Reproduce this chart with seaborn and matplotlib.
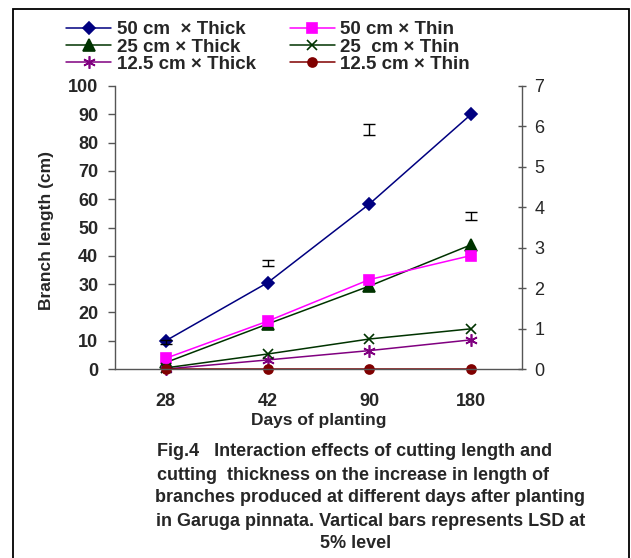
import numpy as np
import matplotlib
matplotlib.use("Agg")
import matplotlib.pyplot as plt
from matplotlib.patches import Rectangle
import seaborn as sns

# Data
days = ["28", "42", "90", "180"]
thick_50 = [10.0, 30.5, 58.3, 90.0]
thin_50 = [3.8, 16.9, 31.6, 40.1]
thick_25 = [2.3, 15.9, 29.3, 43.9]
thin_25 = [0.4, 5.3, 10.6, 14.2]
thick_125 = [0.0, 3.2, 6.5, 10.3]
thin_125 = [0.0, 0.0, 0.0, 0.0]
# LSD (5%) bars on the right axis
lsd_centre = [0.67, 2.62, 5.92, 3.78]
lsd_half = [0.05, 0.07, 0.135, 0.095]

series = [
    ("50 cm  \u00d7 Thick", thick_50, "#000080", "D", 6.5),
    ("25 cm \u00d7 Thick", thick_25, "#003300", "^", 8),
    ("12.5 cm \u00d7 Thick", thick_125, "#800080", (6, 2, 0), 9),
    ("50 cm \u00d7 Thin", thin_50, "#FF00FF", "s", 6.5),
    ("25  cm \u00d7 Thin", thin_25, "#003300", "x", 7.5),
    ("12.5 cm \u00d7 Thin", thin_125, "#800000", "o", 6.5),
]

sns.set_style("white")
plt.rcParams["font.family"] = ["Liberation Sans", "DejaVu Sans"]
AXIS_GREY = "#555555"

fig = plt.figure(figsize=(6.31, 5.58), dpi=100)
ax = fig.add_axes([115 / 631, 1 - 369 / 558, 407 / 631, 283 / 558])
ax2 = ax.twinx()

pos = np.arange(len(days))
for label, vals, color, marker, ms in series:
    sns.lineplot(x=pos, y=vals, ax=ax, color=color, marker=marker,
                 markersize=ms, linewidth=1.1, label=label,
                 markeredgecolor=color, markerfacecolor=color,
                 markeredgewidth=1.2, clip_on=False)

ax2.errorbar(pos, lsd_centre, yerr=lsd_half, fmt="none", ecolor="black",
             elinewidth=1, capsize=4, capthick=1)

# left axis
ax.set_xlim(-0.5, 3.5)
ax.set_ylim(0, 100)
ax.set_yticks(range(0, 101, 10))
ax.tick_params(axis="y", direction="out", length=5, width=1, color=AXIS_GREY,
               pad=7, labelsize=13)
for t in ax.get_yticklabels():
    t.set_fontweight("bold")
ax.set_xticks(pos)
ax.set_xticklabels(days, fontsize=13, fontweight="bold")
ax.set_xticks(np.arange(-0.5, 4, 1), minor=True)
ax.tick_params(axis="x", which="major", length=0, pad=17)
ax.tick_params(axis="x", which="minor", direction="out", length=5, width=1,
               color=AXIS_GREY)
ax.set_ylabel("Branch length (cm)", fontsize=12.5, fontweight="bold")
ax.yaxis.set_label_coords(-0.15, 0.49)
ax.set_xlabel("Days of planting", fontsize=12.5, fontweight="bold")
ax.xaxis.set_label_coords(0.5, -0.155)

# right axis
ax2.set_ylim(0, 7)
ax2.set_yticks(range(0, 8))
ax2.tick_params(axis="y", direction="inout", length=6, width=1,
                color=AXIS_GREY, pad=6, labelsize=13)

for a in (ax, ax2):
    a.spines["top"].set_visible(False)
    for s in ("left", "right", "bottom"):
        a.spines[s].set_color(AXIS_GREY)
        a.spines[s].set_linewidth(1)
ax2.spines["left"].set_visible(False)
ax2.spines["bottom"].set_visible(False)
ax.spines["right"].set_visible(False)

handles, labels = ax.get_legend_handles_labels()
ax.get_legend().remove()
fig.legend(handles, labels, ncol=2, loc="upper left",
           bbox_to_anchor=(57 / 631, 1 - 12 / 558), frameon=False,
           borderpad=0, handlelength=2.4, handletextpad=0.3,
           columnspacing=1.8, labelspacing=0.0,
           prop={"size": 13.5, "weight": "bold"})

# caption
caption = [
    "Fig.4   Interaction effects of cutting length and",
    "cutting  thickness on the increase in length of",
    "branches produced at different days after planting",
    "in Garuga pinnata. Vartical bars represents LSD at",
]
cap_x = [157, 157, 155, 156]
cap_y = [452, 475, 498, 521]
for txt, x, y in zip(caption, cap_x, cap_y):
    fig.text(x / 631, 1 - y / 558, txt, ha="left", va="center",
             fontsize=13, fontweight="bold")
fig.text(356 / 631, 1 - 544 / 558, "5% level", ha="center", va="center",
         fontsize=13, fontweight="bold")

# outer frame
fig.patches.append(Rectangle((13 / 631, -0.05), 616 / 631, 1.05 - 9 / 558,
                             transform=fig.transFigure, fill=False,
                             edgecolor="black", linewidth=1.3))

fig.savefig("out.png", dpi=100)
